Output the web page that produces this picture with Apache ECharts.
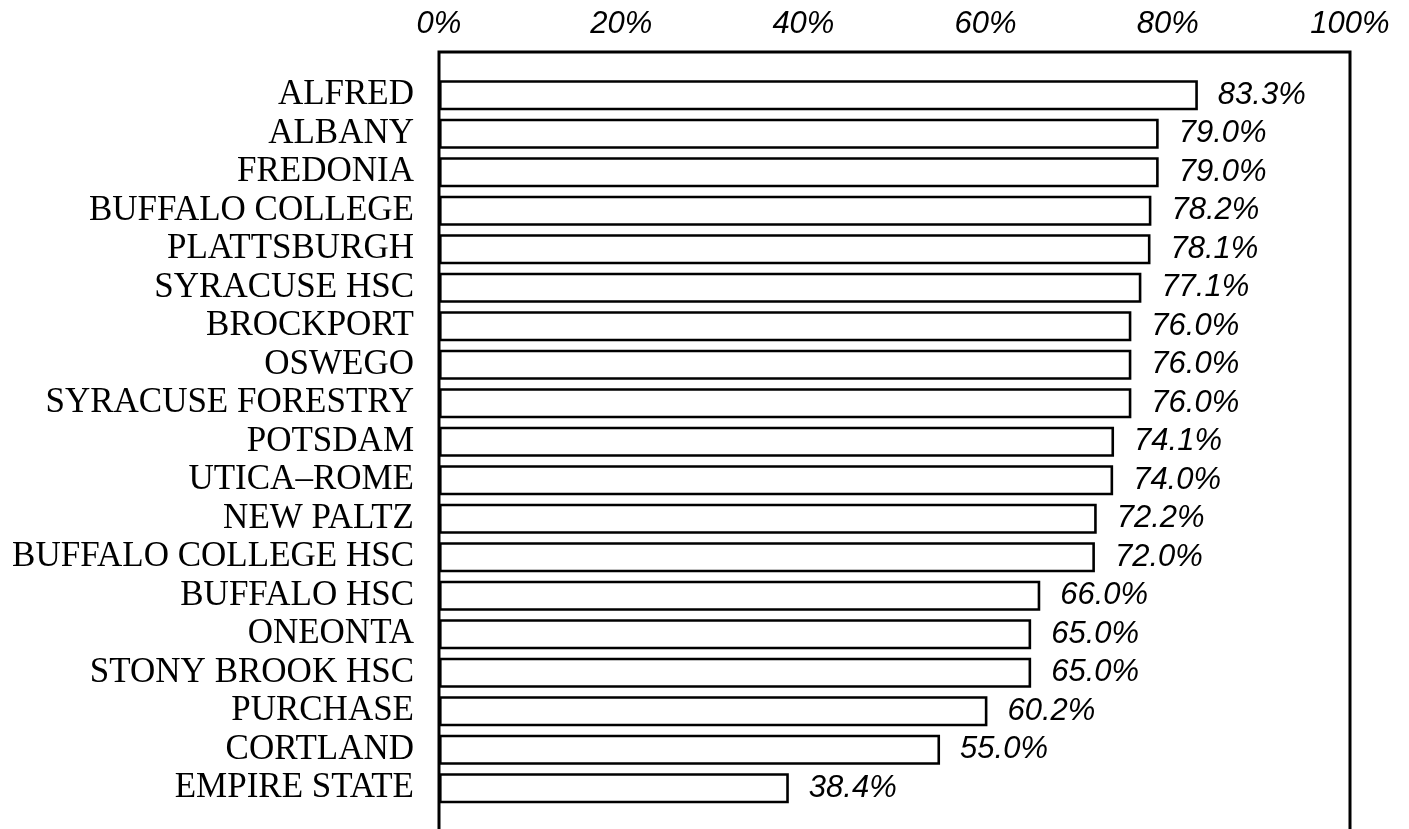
<!DOCTYPE html>
<html>
<head>
<meta charset="utf-8">
<script src="https://cdn.jsdelivr.net/npm/echarts@6/dist/echarts.min.js"></script>
<style>
html,body{margin:0;padding:0;background:#fff;}
#chart{width:1409px;height:829px;}
</style>
</head>
<body>
<div id="chart"></div>
<script>
const categories = ["ALFRED","ALBANY","FREDONIA","BUFFALO COLLEGE","PLATTSBURGH","SYRACUSE HSC","BROCKPORT","OSWEGO","SYRACUSE FORESTRY","POTSDAM","UTICA–ROME","NEW PALTZ","BUFFALO COLLEGE HSC","BUFFALO HSC","ONEONTA","STONY BROOK HSC","PURCHASE","CORTLAND","EMPIRE STATE"];
const values = [83.3,79.0,79.0,78.2,78.1,77.1,76.0,76.0,76.0,74.1,74.0,72.2,72.0,66.0,65.0,65.0,60.2,55.0,38.4];
const axisMin = 0, axisMax = 100, axisStep = 20;

const chart = echarts.init(document.getElementById('chart'), null, {renderer:'canvas'});
const pctFont = {fontFamily:'Liberation Sans', fontStyle:'italic', color:'#000'};
chart.setOption({
  animation:false,
  backgroundColor:'#fff',
  grid:[
    {left:439, right:59, top:52, height:840, show:true, borderColor:'#000', borderWidth:3, backgroundColor:'transparent', outerBoundsMode:'none', containLabel:false},
    {left:439, right:59, top:76, height:731.5, outerBoundsMode:'none', containLabel:false}
  ],
  xAxis:[
    {gridIndex:0, type:'value', position:'top', min:axisMin, max:axisMax, interval:axisStep,
     axisLine:{show:true, lineStyle:{color:'#000', width:3}},
     axisTick:{show:true, inside:true, length:11, lineStyle:{color:'#000', width:1.5}},
     splitLine:{show:false},
     axisLabel:{formatter:'{value}%', fontSize:31, margin:12, ...pctFont}},
    {gridIndex:1, type:'value', min:axisMin, max:axisMax, show:false}
  ],
  yAxis:[
    {gridIndex:0, type:'value', show:false},
    {gridIndex:1, type:'category', inverse:true, data:categories,
     axisLine:{show:false}, axisTick:{show:false}, splitLine:{show:false},
     axisLabel:{interval:0, fontFamily:'Liberation Serif', fontSize:35, color:'#000', margin:25, padding:[0,0,6,0]}}
  ],
  series:[{
    type:'bar', xAxisIndex:1, yAxisIndex:1, data:values, barWidth:30,
    itemStyle:{color:'#fff', borderColor:'#000', borderWidth:2.6},
    label:{show:true, position:'right', distance:20, fontSize:31, ...pctFont,
      formatter:p=>p.value.toFixed(1)+'%'}
  }]
});
</script>
</body>
</html>
